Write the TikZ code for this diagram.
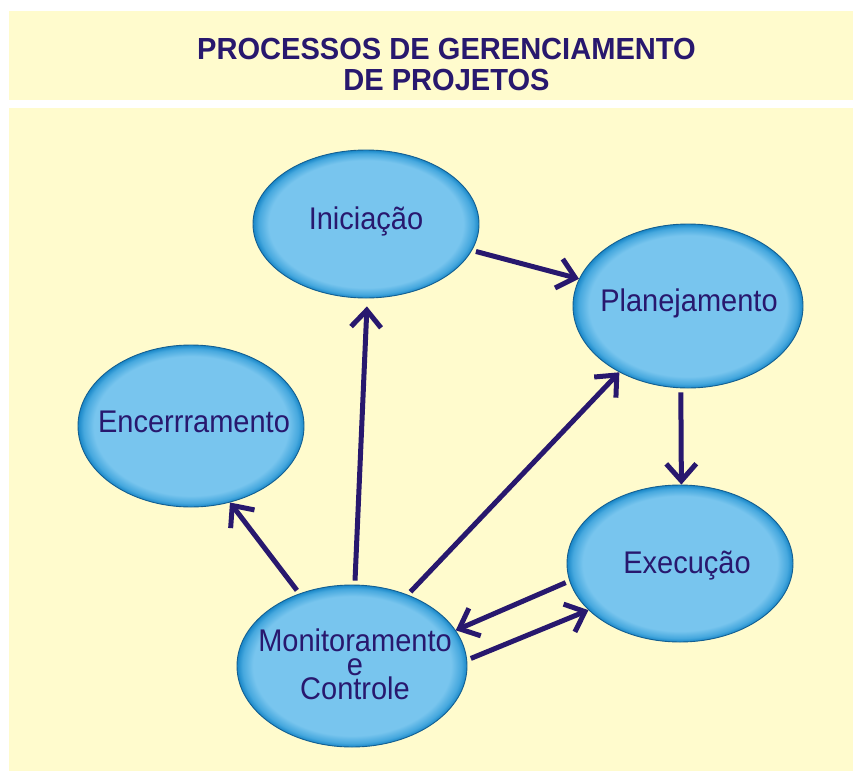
\documentclass[tikz,border=0pt]{standalone}
\usepackage{fontspec}
\usepackage{graphicx}
\setmainfont{Liberation Sans}
\usetikzlibrary{arrows.meta,shapes.geometric}
\definecolor{bgy}{RGB}{255,251,205}
\definecolor{navy}{RGB}{40,24,110}
\definecolor{lb}{RGB}{120,197,238}
\definecolor{mb}{RGB}{70,168,222}
\definecolor{db}{RGB}{25,135,200}
\definecolor{edge}{RGB}{20,95,145}
\pgfdeclareradialshading{ellshade}{\pgfpointorigin}{color(0bp)=(lb); color(21.5bp)=(lb); color(23.8bp)=(mb); color(25bp)=(db); color(50bp)=(db)}
\newcommand\vsc[1]{\scalebox{1}[1.08]{#1}}
\newcommand\tsc[1]{\scalebox{0.953}[1]{#1}}
\tikzset{
  ell/.style={ellipse, inner sep=0pt, shading=ellshade, draw=edge, line width=0.9pt},
  lbl/.style={text=navy, inner sep=0pt, anchor=base, font=\fontsize{29}{29}\selectfont},
  ttl/.style={text=navy, inner sep=0pt, anchor=base, font=\fontsize{30.5}{30.5}\selectfont\bfseries},
  arr/.style={draw=navy, line width=5pt, -{Straight Barb[length=17pt,width=30pt]}, shorten <=4pt}
}
\begin{document}
\begin{tikzpicture}[x=1pt,y=-1pt]
\useasboundingbox (0,0) rectangle (853,771);
\fill[bgy] (9,11) rectangle (853,771);
\fill[white] (9,100) rectangle (853,108);
\node[ttl] (t1) at (446.5,59) {\tsc{PROCESSOS DE GERENCIAMENTO}};
\node[ttl] (t2) at (446.5,90) {\tsc{DE PROJETOS}};
% ellipses
\node[ell, minimum width=226pt, minimum height=148pt] (ini) at (366,224) {};
\node[ell, minimum width=230pt, minimum height=164pt] (plan) at (688,306) {};
\node[ell, minimum width=226pt, minimum height=162pt] (enc) at (191,426) {};
\node[ell, minimum width=226pt, minimum height=157pt] (exe) at (680,563.5) {};
\node[ell, minimum width=230pt, minimum height=162pt] (mon) at (352,666) {};
% labels
\node[lbl] (ini-t) at (366,229.5) {\vsc{Iniciação}};
\node[lbl] (plan-t) at (689,311.7) {\vsc{Planejamento}};
\node[lbl] (enc-t) at (194,432.7) {\vsc{Encerrramento}};
\node[lbl] (exe-t) at (687,573) {\vsc{Execução}};
\node[lbl] (mon-t1) at (355,651) {\vsc{Monitoramento}};
\node[lbl] (mon-t2) at (355,675) {\vsc{e}};
\node[lbl] (mon-t3) at (355,699) {\vsc{Controle}};
% connectors
\draw[arr] (ini.-14) -- (plan.166);
\draw[arr] (plan.-95) -- (exe.89);
\draw[arr] (mon.126) -- (enc.-63);
\draw[arr, shorten >=8pt] (mon.88) -- (ini.-89);
\draw[arr] (mon.52) -- (plan.224.6);
\draw[arr] (exe.189.4) -- (mon.19.8);
\draw[arr] (mon.3) -- (exe.207);
\end{tikzpicture}
\end{document}
